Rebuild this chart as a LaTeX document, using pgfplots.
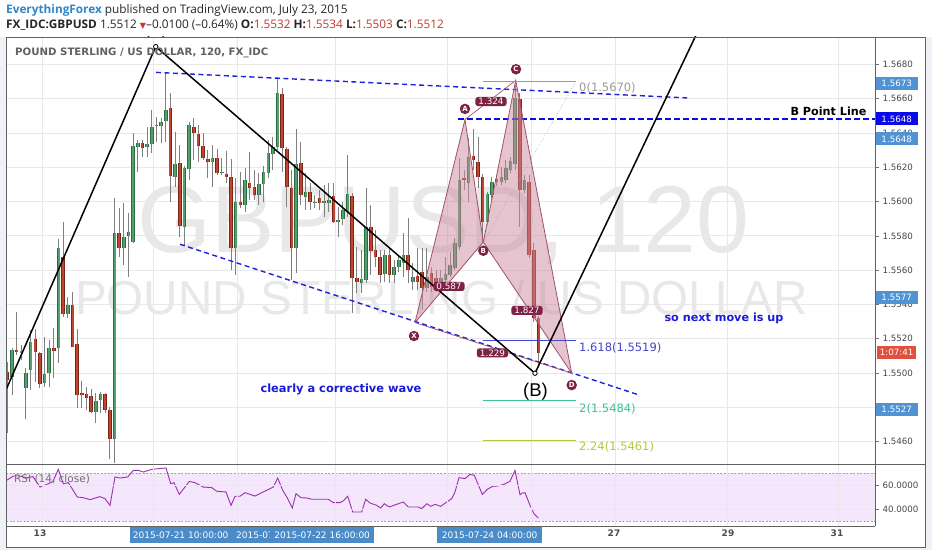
\documentclass[border=0pt]{standalone}
\usepackage{fontspec}
\setmainfont{Liberation Sans}
\newfontfamily\osans{Open Sans}
\newfontfamily\dvs{DejaVu Sans}
\usepackage{pgfplots}
\pgfplotsset{compat=1.18}
\usepackage{pgfplotstable}

\definecolor{upfill}{HTML}{53A06F}
\definecolor{upedge}{HTML}{2E6B45}
\definecolor{dnfill}{HTML}{C0452F}
\definecolor{dnedge}{HTML}{7A2318}
\definecolor{wick}{HTML}{808080}
\definecolor{chanblue}{HTML}{1F1FE0}
\definecolor{txtblue}{HTML}{1A1AD8}
\definecolor{patfill}{HTML}{CC8AA0}
\definecolor{patedge}{HTML}{A05068}
\definecolor{patlab}{HTML}{7E2245}
\definecolor{boxblue}{HTML}{4F93D2}
\definecolor{boxdark}{HTML}{0A0AE8}
\definecolor{boxred}{HTML}{E0503E}
\definecolor{datebox}{HTML}{4A8BC8}
\definecolor{rsiline}{HTML}{9C2FB0}
\definecolor{rsiband}{HTML}{F4E6FB}
\definecolor{wm}{HTML}{E8E8E8}
\definecolor{bg}{HTML}{EEF1F5}
\definecolor{fibgray}{HTML}{9A9A9A}
\definecolor{fibblue}{HTML}{4444CC}
\definecolor{fibteal}{HTML}{3CC29A}
\definecolor{fibolive}{HTML}{B3C83C}
\definecolor{hdrblue}{HTML}{2E86C8}
\definecolor{hdrred}{HTML}{C0392B}

\newcommand{\fs}[1]{\fontsize{#1}{#1}\selectfont}

% GBPUSD 120 min candles, rising ones
\pgfplotstableread{
x o h l c
12.0 1.54977 1.55146 1.54872 1.55135
21.3 1.55117 1.55164 1.55076 1.55129
25.9 1.54913 1.55030 1.54732 1.55000
30.6 1.55018 1.55251 1.54901 1.55181
44.6 1.54942 1.55210 1.54919 1.54995
49.2 1.55000 1.55193 1.54919 1.55146
58.6 1.55146 1.55782 1.55059 1.55729
67.9 1.55344 1.55443 1.55321 1.55397
95.8 1.54773 1.54884 1.54709 1.54837
100.5 1.54843 1.54890 1.54767 1.54878
114.5 1.54616 1.56021 1.54476 1.55817
123.8 1.55729 1.55992 1.55630 1.55793
128.5 1.55799 1.55933 1.55560 1.55822
133.1 1.55764 1.56400 1.55758 1.56324
137.8 1.56318 1.56359 1.56172 1.56341
147.1 1.56318 1.56435 1.56260 1.56335
151.8 1.56335 1.56534 1.56283 1.56435
156.4 1.56440 1.56493 1.56347 1.56446
161.1 1.56440 1.56487 1.56341 1.56464
165.7 1.56470 1.56749 1.56347 1.56534
175.1 1.56143 1.56405 1.56085 1.56219
184.4 1.55852 1.56207 1.55747 1.56196
189.0 1.56190 1.56464 1.56126 1.56446
212.3 1.56230 1.56330 1.56085 1.56254
221.7 1.56166 1.56254 1.56155 1.56172
235.6 1.55729 1.56137 1.55572 1.55997
245.0 1.55980 1.56196 1.55939 1.56126
258.9 1.56038 1.56166 1.55980 1.56102
263.6 1.56102 1.56207 1.55997 1.56172
268.3 1.56166 1.56359 1.56137 1.56283
272.9 1.56277 1.56376 1.56184 1.56318
277.6 1.56318 1.56726 1.56300 1.56633
296.2 1.55729 1.56423 1.55583 1.56219
305.5 1.56027 1.56166 1.55951 1.56056
314.9 1.55992 1.56038 1.55962 1.55997
324.2 1.55992 1.56096 1.55910 1.56003
328.8 1.55992 1.56108 1.55939 1.56009
338.2 1.55881 1.55968 1.55793 1.55892
342.8 1.55898 1.55997 1.55863 1.55951
347.5 1.55939 1.56271 1.55910 1.56044
361.5 1.55525 1.55718 1.55467 1.55548
366.1 1.55543 1.56079 1.55525 1.55852
384.8 1.55578 1.55718 1.55531 1.55688
394.1 1.55572 1.55659 1.55525 1.55618
398.7 1.55618 1.55688 1.55589 1.55659
403.4 1.55642 1.55817 1.55560 1.55688
412.7 1.55531 1.55642 1.55484 1.55560
426.7 1.55496 1.55729 1.55473 1.55560
440.7 1.55525 1.55601 1.55484 1.55554
445.3 1.55543 1.55677 1.55496 1.55578
450.0 1.55572 1.55706 1.55560 1.55630
454.7 1.55613 1.55788 1.55601 1.55758
459.3 1.55735 1.56254 1.55718 1.56126
468.6 1.56108 1.56370 1.55997 1.56260
487.3 1.55881 1.56056 1.55863 1.56044
491.9 1.56038 1.56143 1.56009 1.56114
501.3 1.56114 1.56201 1.56096 1.56143
505.9 1.56126 1.56242 1.56108 1.56196
510.6 1.56184 1.56260 1.56166 1.56236
515.2 1.56219 1.56680 1.56184 1.56604
524.6 1.56067 1.56155 1.56050 1.56126
}\upbars

% falling ones
\pgfplotstableread{
x o h l c
7.3 1.55006 1.55064 1.54651 1.54960
16.6 1.55135 1.55356 1.55105 1.55123
35.3 1.55199 1.55257 1.54948 1.55123
39.9 1.55117 1.55123 1.54913 1.54936
53.9 1.55146 1.55263 1.54971 1.55129
63.2 1.55677 1.55881 1.55327 1.55344
72.5 1.55397 1.55473 1.55152 1.55152
77.2 1.55170 1.55257 1.54796 1.54872
81.9 1.54884 1.54954 1.54796 1.54872
86.5 1.54878 1.54919 1.54785 1.54855
91.2 1.54866 1.54907 1.54767 1.54773
105.2 1.54878 1.54884 1.54767 1.54785
109.8 1.54785 1.54802 1.54499 1.54616
119.1 1.55817 1.55962 1.55677 1.55729
142.4 1.56341 1.56359 1.56260 1.56312
170.4 1.56545 1.56633 1.55997 1.56149
179.7 1.56225 1.56330 1.55793 1.55857
193.7 1.56435 1.56487 1.56242 1.56400
198.4 1.56394 1.56446 1.56230 1.56324
203.0 1.56324 1.56400 1.56242 1.56254
207.7 1.56248 1.56300 1.56137 1.56230
217.0 1.56254 1.56306 1.56155 1.56166
226.3 1.56161 1.56295 1.56108 1.56143
231.0 1.56143 1.56248 1.55601 1.55729
240.3 1.55997 1.56172 1.55962 1.55980
249.6 1.56108 1.56289 1.56009 1.56079
254.3 1.56085 1.56184 1.56009 1.56038
282.2 1.56627 1.56662 1.56172 1.56312
286.9 1.56306 1.56318 1.55968 1.56085
291.6 1.56079 1.56184 1.55543 1.55729
300.9 1.56225 1.56347 1.55980 1.56038
310.2 1.56056 1.56108 1.55951 1.55997
319.5 1.56021 1.56067 1.55951 1.55992
333.5 1.56032 1.56108 1.55875 1.55881
352.1 1.56032 1.56050 1.55350 1.55554
356.8 1.55554 1.55735 1.55467 1.55531
370.8 1.55852 1.55980 1.55572 1.55712
375.4 1.55718 1.55834 1.55618 1.55677
380.1 1.55677 1.55718 1.55525 1.55572
389.4 1.55688 1.55735 1.55525 1.55572
408.1 1.55688 1.55904 1.55525 1.55601
417.4 1.55566 1.55729 1.55484 1.55531
422.0 1.55589 1.55729 1.55368 1.55496
431.4 1.55583 1.55618 1.55473 1.55502
436.0 1.55554 1.55601 1.55473 1.55496
464.0 1.56137 1.56184 1.56067 1.56126
473.3 1.56265 1.56423 1.56184 1.56242
478.0 1.56230 1.56376 1.56079 1.56143
482.6 1.56143 1.56161 1.55764 1.55881
496.6 1.56131 1.56155 1.56091 1.56114
519.9 1.56598 1.56633 1.55852 1.56067
529.2 1.56114 1.56155 1.55671 1.55688
533.9 1.55718 1.55758 1.55298 1.55321
538.5 1.55321 1.55333 1.55030 1.55117
}\dnbars

\pgfplotsset{
  bar/.style n args={3}{only marks, mark=*, mark size=0pt,
    mark options={draw=none, fill=none}, forget plot,
    error bars/.cd, y dir=plus, y explicit, error mark=none,
    error bar style={draw=#1, line width=#2, line cap=#3}},
  pane/.style={scale only axis, anchor=south west, width=869pt,
    xmin=6, xmax=875, axis line style={draw=none},
    xtick={42,153,237,335,447,531,615,727,838}, xticklabels={},
    major x tick style={draw=none},
    xmajorgrids, ymajorgrids, grid style={draw=black!9, line width=0.7pt},
    ytick pos=right, yticklabel pos=right, tick align=outside,
    major tick length=4pt, major y tick style={draw=black!55, line width=0.6pt},
    yticklabel style={font=\dvs\fs{8.7}, text=black!72,
      /pgf/number format/fixed, /pgf/number format/fixed zerofill,
      /pgf/number format/precision=4,
      /pgf/number format/assume math mode=true}},
}

\begin{document}
\begin{tikzpicture}[x=1pt,y=1pt]
\fill[bg] (0,0) rectangle (932,550);
\fill[white] (0,513) rectangle (932,550);
\fill[white] (6,3) rectangle (925,513);

% ---------------- price pane
\begin{axis}[pane, at={(6pt,85.5pt)}, height=427.5pt,
  ymin=1.5446695, ymax=1.5695915,
  ytick={1.546,1.548,1.55,1.552,1.554,1.556,1.558,1.56,1.562,1.564,1.566,1.568}]
\node[anchor=base, font=\fs{95}, text=wm] at (axis cs:443.5,1.5570) {GBPUSD, 120};
\node[anchor=base, font=\fs{47.6}, text=wm] at (axis cs:441.5,1.55339) {POUND STERLING / US DOLLAR};

% wicks
\addplot[bar={wick}{0.9pt}{butt}] table[x=x, y=l, y error plus expr=\thisrow{h}-\thisrow{l}] {\upbars};
\addplot[bar={wick}{0.9pt}{butt}] table[x=x, y=l, y error plus expr=\thisrow{h}-\thisrow{l}] {\dnbars};
% bodies
\addplot[bar={upedge}{3.6pt}{butt}] table[x=x, y=o, y error plus expr=\thisrow{c}-\thisrow{o}] {\upbars};
\addplot[bar={upfill}{2.0pt}{butt}] table[x=x, y=o, y error plus expr=\thisrow{c}-\thisrow{o}] {\upbars};
\addplot[bar={dnedge}{3.6pt}{butt}] table[x=x, y=c, y error plus expr=\thisrow{o}-\thisrow{c}] {\dnbars};
\addplot[bar={dnfill}{2.0pt}{butt}] table[x=x, y=c, y error plus expr=\thisrow{o}-\thisrow{c}] {\dnbars};

% channel and B point line
\addplot[chanblue, line width=1.4pt, dash pattern=on 5pt off 3.5pt] coordinates {(156,1.56753) (687,1.56604)};
\addplot[chanblue, line width=1.4pt, dash pattern=on 5pt off 3.5pt] coordinates {(180,1.55751) (637,1.54876)};
\addplot[boxdark, line width=1.6pt, dash pattern=on 6pt off 3pt] coordinates {(458,1.56481) (875,1.56481)};

% harmonic pattern
\addplot[fill=patfill, fill opacity=0.5, draw=patedge, line width=0.8pt] coordinates {(415,1.55294) (465,1.56478) (483.3,1.55764) (415,1.55294)};
\addplot[fill=patfill, fill opacity=0.5, draw=patedge, line width=0.8pt] coordinates {(483.3,1.55764) (515.7,1.56706) (571.7,1.54999) (483.3,1.55764)};
\addplot[patedge, line width=0.7pt] coordinates {(465,1.56478) (515.7,1.56706)};
\addplot[patedge, line width=0.7pt] coordinates {(415,1.55294) (571.7,1.54999)};

% fib extension
\addplot[fibgray, line width=0.8pt] coordinates {(482.7,1.5670) (576,1.5670)};
\addplot[fibblue, line width=0.8pt] coordinates {(482.7,1.5519) (576,1.5519)};
\addplot[fibteal, line width=0.8pt] coordinates {(482.7,1.5484) (576,1.5484)};
\addplot[fibolive, line width=0.8pt] coordinates {(482.7,1.5461) (576,1.5461)};
\addplot[fibgray, line width=0.6pt, dotted] coordinates {(483.3,1.55764) (576.7,1.56707)};

% wave lines
\addplot[black, line width=1.5pt] coordinates {(6.7,1.54911) (155.7,1.56903) (535,1.54999) (700,1.57019)};
\addplot[only marks, mark=*, mark size=2.2pt, mark options={fill=white, draw=black, line width=0.8pt}] coordinates {(155.7,1.56903) (535,1.54999)};

% labels
\tikzset{ptlab/.style={circle, fill=patlab, text=white, font=\dvs\bfseries\fs{7}, inner sep=0pt, minimum size=10.5pt},
  rlab/.style={fill=patlab, text=white, rounded corners=2.5pt, font=\dvs\fs{8.8}, inner xsep=3pt, inner ysep=1.2pt}}
\node[ptlab] at (axis cs:516,1.56771) {C};
\node[ptlab] at (axis cs:465,1.5654) {A};
\node[ptlab] at (axis cs:483.3,1.55713) {B};
\node[ptlab] at (axis cs:414,1.55216) {X};
\node[ptlab] at (axis cs:571.7,1.5493) {D};
\node[rlab] at (axis cs:491,1.56583) {1.324};
\node[rlab] at (axis cs:449,1.55505) {0.587};
\node[rlab] at (axis cs:527,1.55365) {1.827};
\node[rlab] at (axis cs:492.5,1.55118) {1.229};

\node[anchor=west, font=\dvs\fs{11.5}, text=fibgray, inner sep=0pt] at (axis cs:579,1.56662) {0(1.5670)};
\node[anchor=west, font=\dvs\fs{11.5}, text=fibblue, inner sep=0pt] at (axis cs:579,1.55146) {1.618(1.5519)};
\node[anchor=west, font=\dvs\fs{11.5}, text=fibteal, inner sep=0pt] at (axis cs:579,1.54793) {2(1.5484)};
\node[anchor=west, font=\dvs\fs{11.5}, text=fibolive, inner sep=0pt] at (axis cs:579,1.54569) {2.24(1.5461)};

\node[font=\fs{18.5}] at (axis cs:535.5,1.54891) {(B)};
\node[font=\dvs\bfseries\fs{11.4}, text=txtblue] at (axis cs:341,1.54907) {clearly a corrective wave};
\node[font=\dvs\bfseries\fs{11.2}, text=txtblue] at (axis cs:724,1.55319) {so next move is up};
\node[anchor=east, font=\dvs\bfseries\fs{11.2}] at (axis cs:870,1.56524) {B Point Line};
\end{axis}

% ---------------- RSI pane
\begin{axis}[pane, at={(6pt,24pt)}, height=61.5pt, ymin=25.83, ymax=77.08,
  ytick={40,60}, axis on top]
\fill[rsiband] (axis cs:6,30) rectangle (axis cs:875,70);
\addplot[black!35, line width=0.8pt, dash pattern=on 2pt off 1.5pt] coordinates {(6,70) (875,70)};
\addplot[black!35, line width=0.8pt, dash pattern=on 2pt off 1.5pt] coordinates {(6,30) (875,30)};
\addplot[rsiline, line width=0.9pt] coordinates {
(6.7,63.9) (13.3,67.5) (20,67.5) (27,66) (33,67) (40,58.3) (48.3,61) (53,63)
(58.3,73) (63.3,61) (68.3,62) (77.3,50) (83.3,49.4) (90,47.8) (100,50.3)
(105,48.6) (110,43) (115,66.7) (120,65.8) (127.7,66.7) (133.3,72.2) (138.3,72.2)
(143.3,70.8) (151.7,73) (158.3,73.6) (166,74.2) (170.7,61.1) (174,61.9)
(179.3,52.2) (189.3,63) (195,61.9) (203.3,58.3) (211.7,57.8) (216.7,54.8)
(226,54.2) (231,43) (235,50.6) (240,50.6) (245,53.6) (255,50.8) (266.7,55.6)
(273.3,58.3) (277.7,65.8) (282.7,55.6) (287.3,49.2) (292.3,40.8) (296,52.8)
(301,49.4) (306.7,49.2) (311.7,48.1) (328.3,48.1) (333.3,45.3) (340,45.3)
(343.3,46.7) (347.7,50.6) (352.7,37.5) (361.7,37.5) (365.7,48.1) (370,45)
(376.7,43) (380.7,40.8) (384.3,44.4) (389.3,41.7) (396.7,43.9) (403.3,45.8)
(408.3,41.7) (418.3,41.7) (421.7,40.3) (426.7,44.4) (431,42.2) (435,43.9)
(440.7,42.2) (446.7,45.8) (451.7,48.6) (455,54.2) (459,66.1) (465,65.3)
(470,68.9) (474.3,68.1) (482.3,52.2) (487.3,56.4) (492.7,58.9) (498.3,59.2)
(504,60.6) (510,63.1) (515,72.2) (520,51.9) (522.3,53.3) (525,53.6) (530,43.1)
(534,36.1) (538.3,32.5)};
\end{axis}

% ---------------- frame
\begin{scope}[draw=black!62, line width=0.8pt]
\draw (6,3) rectangle (925,513);
\draw (875,24) -- (875,513);
\draw (6,85.5) -- (925,85.5);
\draw (6,24) -- (875,24);
\end{scope}

% clipped (A) label
\begin{scope}
\clip (6,85.5) rectangle (875,513);
\node[font=\fs{18.5}] at (156,521) {(A)};
\end{scope}

\node[anchor=west, font=\dvs\fs{10.5}, text=black!55, inner sep=0pt] at (14,70.7) {RSI (14, close)};

% price scale boxes
\tikzset{pb/.style={anchor=west, text=white, font=\dvs\fs{8.7}, minimum height=13pt, minimum width=42pt, inner sep=0pt}}
\node[pb, fill=boxblue] at (875.5,466.7) {1.5673};
\node[pb, fill=boxdark] at (875.5,431) {1.5648};
\node[pb, fill=boxblue] at (875.5,411) {1.5648};
\node[pb, fill=boxblue] at (875.5,252.7) {1.5577};
\node[pb, fill=boxred, minimum width=39pt] at (877,197.3) {1:07:41};
\node[pb, fill=boxblue] at (875.5,141) {1.5527};

% time scale
\tikzset{tl/.style={font=\dvs\bfseries\fs{9}, text=black!70}}
\node[tl] at (40,17) {13};
\node[tl] at (614,17) {27};
\node[tl] at (728,17) {29};
\node[tl] at (837,17) {31};
\tikzset{db/.style={fill=datebox, text=white, font=\dvs\fs{9}, minimum height=16pt, inner sep=0pt, anchor=west}}
\node[db, minimum width=102.4pt] at (129.3,15) {2015-07-21 10:00:00};
\node[db, minimum width=104pt] at (231.7,15) {2015-07-22 04:00:00};
\node[db, minimum width=104pt] at (270,15) {2015-07-22 16:00:00};
\node[db, minimum width=105pt] at (437,15) {2015-07-24 04:00:00};

% header
\node[anchor=base west, inner sep=0pt, font=\osans\fs{11.8}, text=black!85] at (6,536.7)
  {{\bfseries\color{hdrblue}EverythingForex} published on TradingView.com, July 23, 2015};
\node[anchor=base west, inner sep=0pt, font=\osans\fs{11.8}, text=black!85] at (6,521.7)
  {{\bfseries FX\_IDC:GBPUSD} 1.5512 {\dvs\fs{8}\color{hdrred}▼}–0.0100 (–0.64\%) {\bfseries O:}{\color{hdrred}1.5532} {\bfseries H:}{\color{hdrred}1.5534} {\bfseries L:}{\color{hdrred}1.5503} {\bfseries C:}{\color{hdrred}1.5512}};
\node[anchor=base west, inner sep=0pt, font=\dvs\bfseries\fs{10.2}, text=black!62] at (15,494)
  {POUND STERLING / US DOLLAR, 120, FX\_IDC};

\pgfresetboundingbox
\useasboundingbox (0,0) rectangle (932,550);
\end{tikzpicture}
\end{document}
